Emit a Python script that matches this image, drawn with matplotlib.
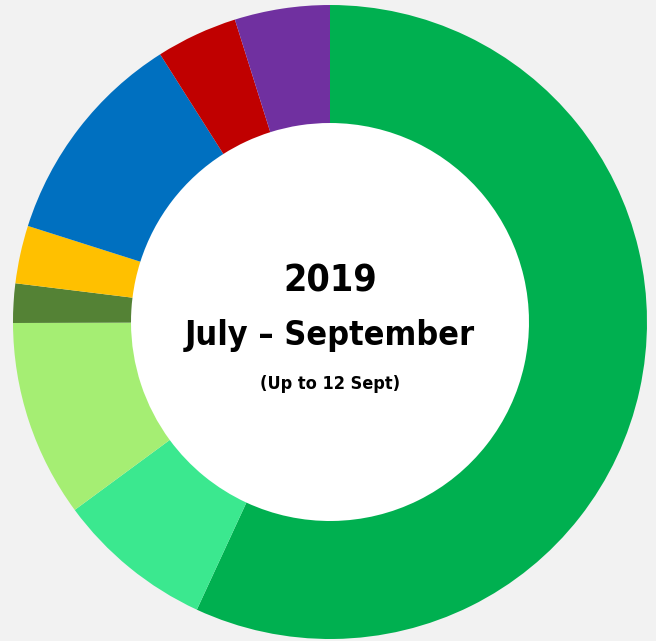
import matplotlib
matplotlib.use("Agg")
import matplotlib.pyplot as plt

# share of each slice (%), clockwise from 12 o'clock
shares = [56.9, 8.0, 10.05, 2.0, 2.95, 11.1, 4.15, 4.85]
colors = ['#00B050', '#3BE88F', '#A5EE73', '#548235', '#FFC000',
          '#0070C0', '#C00000', '#7030A0']

title_lines = ['2019', 'July \u2013 September', '(Up to 12 Sept)']

fig = plt.figure(figsize=(6.56, 6.41), dpi=100, facecolor='#F2F2F2')
W, H = 656, 641
cx, cy, r, r_in = 330, 322, 317, 199
ax = fig.add_axes([(cx - r) / W, (H - cy - r) / H, 2 * r / W, 2 * r / H])
ax.set_facecolor('none')

ax.pie(shares, colors=colors, startangle=90, counterclock=False,
       radius=1.0, wedgeprops=dict(width=1 - r_in / r, linewidth=0))
ax.add_patch(plt.Circle((0, 0), r_in / r, color='white', zorder=0))
ax.set_xlim(-1, 1)
ax.set_ylim(-1, 1)
ax.set_aspect('equal')
ax.axis('off')

txt = dict(ha='center', va='center', fontweight='bold',
           family='DejaVu Sans', fontstretch='condensed')
fig.text(cx / W, 1 - 282 / H, title_lines[0], fontsize=27, **txt)
fig.text(cx / W, 1 - 336 / H, title_lines[1], fontsize=24.5, **txt)
fig.text(cx / W, 1 - 384 / H, title_lines[2], fontsize=13, **txt)

fig.savefig('out.png', dpi=100, facecolor=fig.get_facecolor())
